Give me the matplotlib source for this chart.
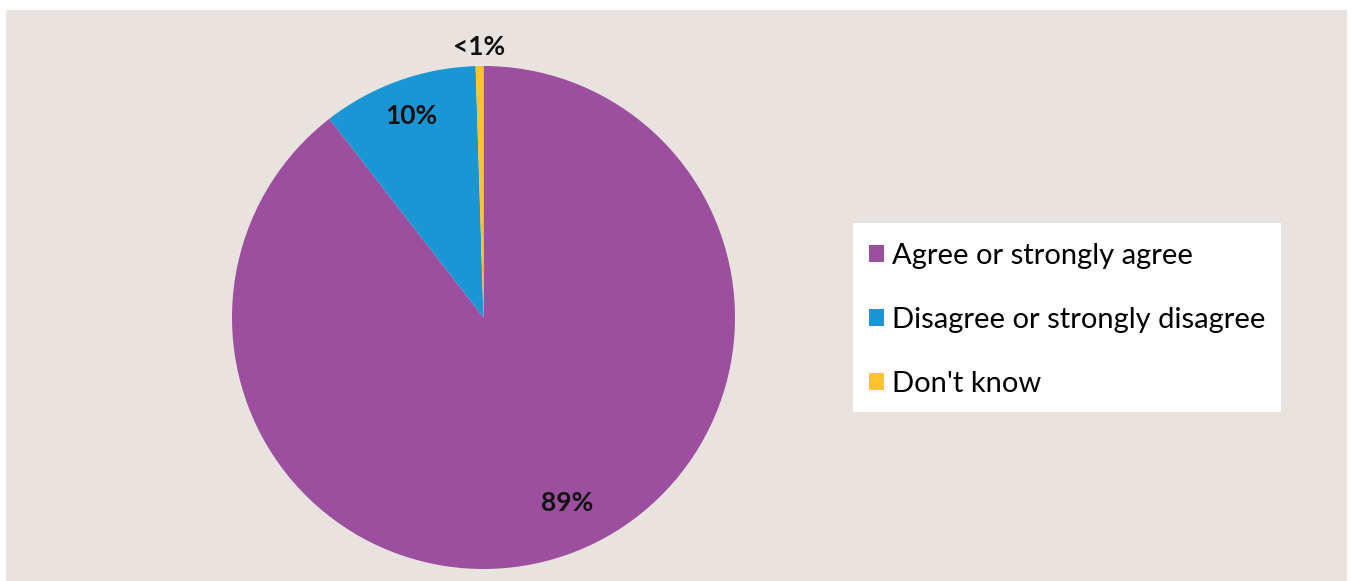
import numpy as np
import matplotlib.pyplot as plt
from matplotlib.patches import Rectangle, Patch

# datos
categorias = ['Agree or strongly agree', 'Disagree or strongly disagree', "Don't know"]
valores = [89.5, 10.0, 0.5]
etiquetas = ['89%', '10%', '<1%']
colores = ['#9B4F9E', '#1A96D4', '#FFC425']

plt.rcParams['font.family'] = ['Lato', 'DejaVu Sans']

W, H = 1351, 581
fig = plt.figure(figsize=(W / 100, H / 100), dpi=100, facecolor='white')

# fondo beige
fig.patches.append(Rectangle((6 / W, 0), 1341 / W, 571 / H, transform=fig.transFigure,
                             facecolor='#E8E3DE', edgecolor='none', zorder=-10))

cx, cy, r = 483.5, H - 317.5, 251.5
ax = fig.add_axes([(cx - r) / W, (cy - r) / H, 2 * r / W, 2 * r / H])
ax.set_facecolor('none')
wedges, _ = ax.pie(valores, colors=colores, startangle=90, counterclock=False,
                   radius=1, wedgeprops=dict(linewidth=0))
ax.set_xlim(-1, 1)
ax.set_ylim(-1, 1)
ax.set_aspect('equal')
ax.axis('off')

# etiquetas de porcentaje (distancia y giro a ojo)
distancias = [0.81, 0.85, 1.075]
giros = [5.2, 0, 0]
for w, txt, d, g in zip(wedges, etiquetas, distancias, giros):
    ang = np.deg2rad((w.theta1 + w.theta2) / 2 + g)
    ax.text(d * np.cos(ang), d * np.sin(ang), txt, ha='center', va='center',
            fontsize=19, fontweight='bold', color='#111111')

# leyenda en caja blanca
fig.patches.append(Rectangle((853 / W, 1 - 412 / H), 428 / W, 189 / H, transform=fig.transFigure,
                             facecolor='white', edgecolor='none', zorder=-5))
handles = [Patch(facecolor=c, edgecolor='none') for c in colores]
fig.legend(handles, categorias, loc='upper left', bbox_to_anchor=(869 / W, 1 - 243 / H),
           frameon=False, fontsize=21, handlelength=0.52, handleheight=0.52,
           handletextpad=0.28, labelspacing=1.3, borderpad=0, borderaxespad=0)

fig.savefig('out.png', dpi=100, facecolor=fig.get_facecolor())
